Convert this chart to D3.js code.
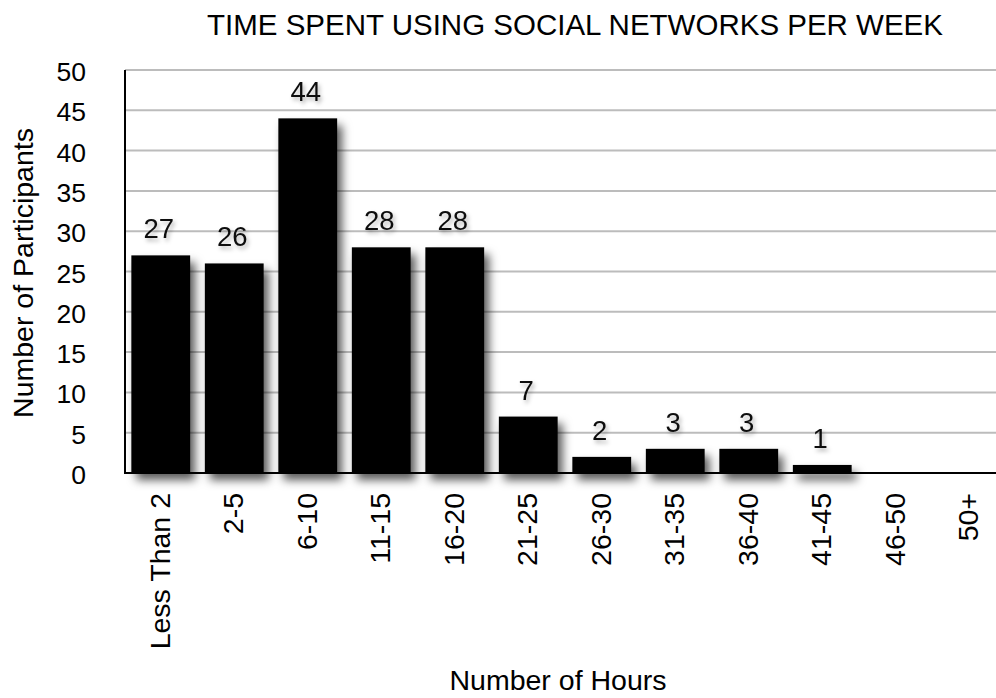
<!DOCTYPE html>
<html>
<head>
<meta charset="utf-8">
<script src="https://cdn.jsdelivr.net/npm/d3@7"></script>
<style>
  html, body { margin: 0; padding: 0; background: #fff; }
  svg { display: block; font-family: "Liberation Sans", Arial, Helvetica, sans-serif; }
</style>
</head>
<body>
<svg id="chart" width="996" height="698"></svg>
<script>
// Weekly hours spent on social networks, by participant count
const categories = ["Less Than 2", "2-5", "6-10", "11-15", "16-20", "21-25",
                    "26-30", "31-35", "36-40", "41-45", "46-50", "50+"];
const participants = [27, 26, 44, 28, 28, 7, 2, 3, 3, 1, 0, 0];
const yTicks = [0, 5, 10, 15, 20, 25, 30, 35, 40, 45, 50];

const chartTitle = "TIME SPENT USING SOCIAL NETWORKS PER WEEK";
const xTitle = "Number of Hours";
const yTitle = "Number of Participants";

const W = 996, H = 698;
const plot = { left: 125, right: 1007, top: 70, bottom: 473 };

const svg = d3.select("#chart");

// soft drop shadows for bars and value labels
const defs = svg.append("defs");
const barShadow = defs.append("filter").attr("id", "barShadow")
  .attr("x", "-30%").attr("y", "-30%").attr("width", "170%").attr("height", "170%");
barShadow.append("feDropShadow")
  .attr("dx", 5).attr("dy", 7).attr("stdDeviation", 5)
  .attr("flood-color", "#000").attr("flood-opacity", 0.65);

const textShadow = defs.append("filter").attr("id", "textShadow")
  .attr("x", "-30%").attr("y", "-30%").attr("width", "160%").attr("height", "160%");
textShadow.append("feDropShadow")
  .attr("dx", 2).attr("dy", 3).attr("stdDeviation", 2)
  .attr("flood-color", "#000").attr("flood-opacity", 0.3);

const x = d3.scaleBand()
  .domain(categories)
  .range([plot.left, plot.right])
  .paddingInner(0.2)
  .paddingOuter(0.1);

const y = d3.scaleLinear()
  .domain([0, 50])
  .range([plot.bottom, plot.top]);

// horizontal gridlines
svg.append("g")
  .selectAll("line")
  .data(yTicks.filter(d => d > 0))
  .join("line")
  .attr("x1", plot.left)
  .attr("x2", W)
  .attr("y1", d => y(d))
  .attr("y2", d => y(d))
  .attr("stroke", "#bcbcbc")
  .attr("stroke-width", 2);

const barData = participants.map((v, i) => ({ cat: categories[i], v })).filter(d => d.v > 0);

// bars
svg.append("g")
  .attr("filter", "url(#barShadow)")
  .selectAll("rect")
  .data(barData)
  .join("rect")
  .attr("x", d => x(d.cat) - 1)
  .attr("width", x.bandwidth())
  .attr("y", d => y(d.v))
  .attr("height", d => y(0) - y(d.v))
  .attr("fill", "#000");

// value labels above bars
svg.append("g")
  .attr("filter", "url(#textShadow)")
  .selectAll("text")
  .data(barData)
  .join("text")
  .attr("x", d => x(d.cat) + x.bandwidth() / 2 - 3)
  .attr("y", d => y(d.v) - 17)
  .attr("text-anchor", "middle")
  .attr("font-size", 27.5)
  .attr("fill", "#111")
  .text(d => d.v);

// axis lines
svg.append("line")
  .attr("x1", plot.left).attr("x2", plot.left)
  .attr("y1", plot.top).attr("y2", plot.bottom + 1)
  .attr("stroke", "#000").attr("stroke-width", 2);
svg.append("line")
  .attr("x1", plot.left - 1).attr("x2", W)
  .attr("y1", plot.bottom).attr("y2", plot.bottom)
  .attr("stroke", "#000").attr("stroke-width", 2);

// y tick labels
svg.append("g")
  .selectAll("text")
  .data(yTicks)
  .join("text")
  .attr("x", 86)
  .attr("y", d => y(d) + 11)
  .attr("text-anchor", "end")
  .attr("font-size", 26.5)
  .attr("fill", "#000")
  .text(d => d);

// x tick labels, rotated
svg.append("g")
  .selectAll("text")
  .data(categories)
  .join("text")
  .attr("transform", d => `translate(${x(d) + x.bandwidth() / 2 + 8},493) rotate(-90)`)
  .attr("text-anchor", "end")
  .attr("font-size", 28.5)
  .attr("fill", "#000")
  .text(d => d);

// titles
svg.append("text")
  .attr("x", 575).attr("y", 35)
  .attr("text-anchor", "middle")
  .attr("font-size", 29.5)
  .attr("fill", "#000")
  .text(chartTitle);

svg.append("text")
  .attr("x", 558).attr("y", 690)
  .attr("text-anchor", "middle")
  .attr("font-size", 28.5)
  .attr("fill", "#000")
  .text(xTitle);

svg.append("text")
  .attr("transform", "translate(33,273) rotate(-90)")
  .attr("text-anchor", "middle")
  .attr("font-size", 28.5)
  .attr("fill", "#000")
  .text(yTitle);
</script>
</body>
</html>
